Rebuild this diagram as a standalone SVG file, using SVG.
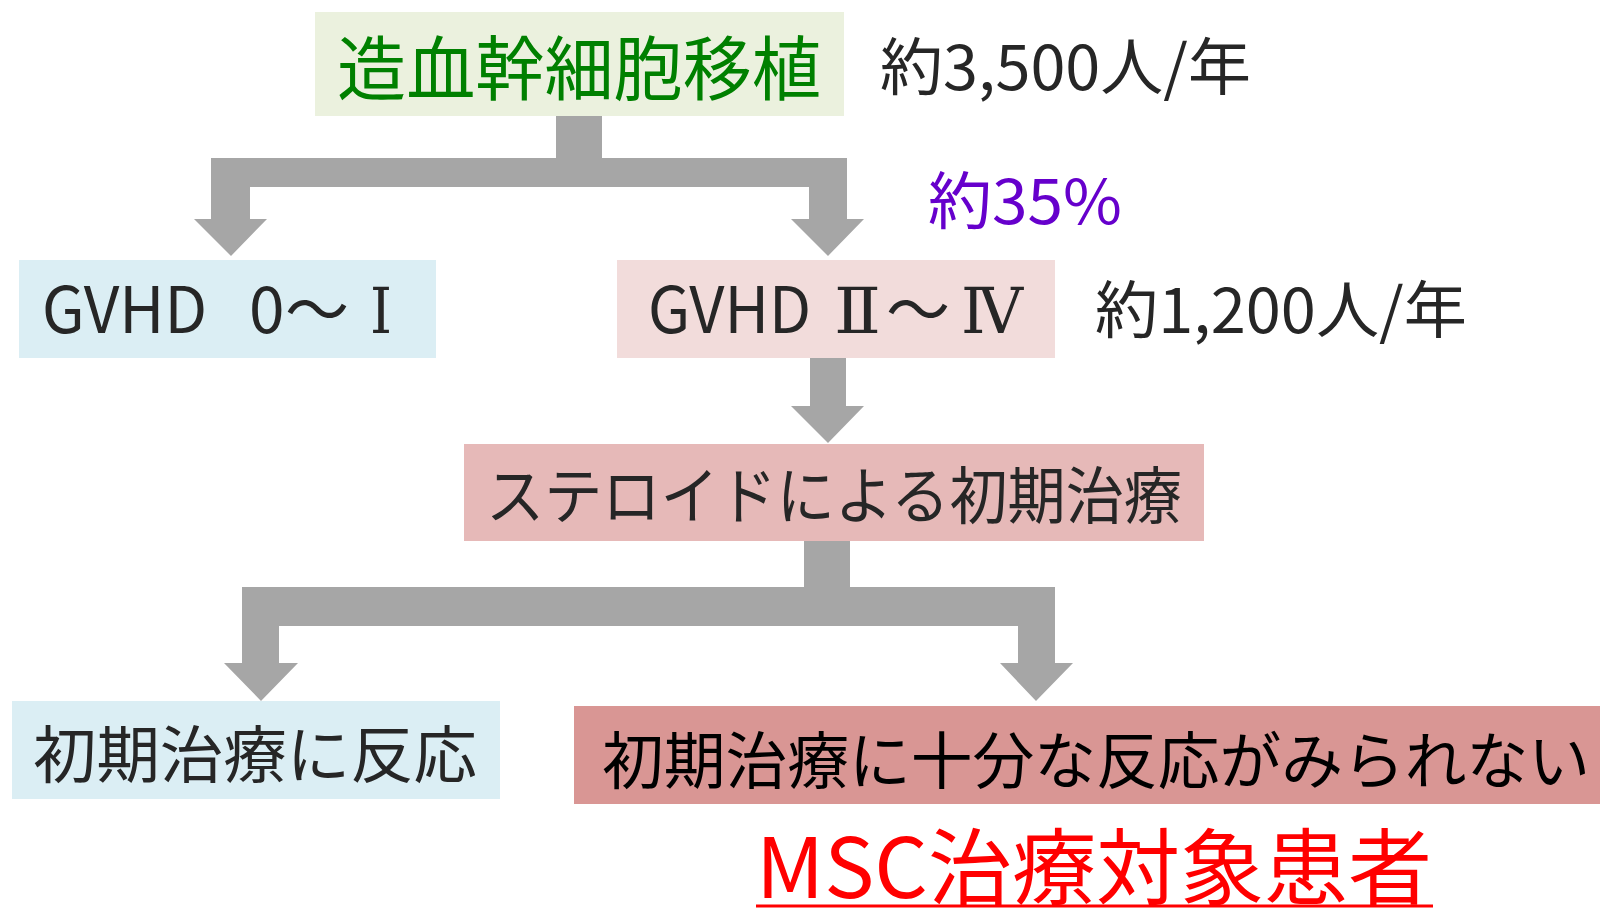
<svg xmlns="http://www.w3.org/2000/svg" width="1600" height="909" viewBox="0 0 1600 909">
<style>
text{font-family:"Noto Sans CJK JP","Noto Sans",sans-serif;}
.t{fill:#262626;font-size:62px;}
.g{font-size:64px;fill:#262626;}
.r{font-family:"DejaVu Serif","Liberation Serif","Noto Sans CJK JP",serif;font-size:64px;fill:#262626;}
.arr{fill:#A6A6A6;}
</style>
<rect width="1600" height="909" fill="#FFFFFF"/>
<g id="connectors">
<path class="arr" d="M556,116 H602 V158 H847 V219 H864 L828,256 L791,219 H809 V187 H250 V219 H267 L231,256 L194,219 H211 V158 H556 Z"/>
<path class="arr" d="M810,357 H846 V406 H864 L828,443 L791,406 H810 Z"/>
<path class="arr" d="M804,541 H850 V587 H1055 V663 H1073 L1036,701 L1000,663 H1018 V626 H279 V663 H298 L261,701 L224,663 H242 V587 H804 Z"/>
</g>
<g id="node-transplant">
<rect x="315" y="12" width="529" height="104" fill="#EBF1DE"/>
<text x="337" y="95" font-size="70" fill="#008000" textLength="484" lengthAdjust="spacingAndGlyphs">造血幹細胞移植</text>
</g>
<g id="label-3500">
<text class="t" x="880" y="90" textLength="371" lengthAdjust="spacingAndGlyphs">約3,500人/年</text>
</g>
<g id="label-35">
<text x="928" y="224" font-size="62" fill="#6600CC" textLength="194" lengthAdjust="spacingAndGlyphs">約35%</text>
</g>
<g id="node-gvhd-low">
<rect x="19" y="260" width="417" height="98" fill="#DBEEF4"/>
<text class="g" x="42" y="333" textLength="165" lengthAdjust="spacingAndGlyphs">GVHD</text>
<text class="g" x="249" y="333">0</text>
<text class="g" x="317" y="333" text-anchor="middle">～</text>
<text class="r" x="370" y="333" textLength="22" lengthAdjust="spacingAndGlyphs">Ⅰ</text>
</g>
<g id="node-gvhd-high">
<rect x="617" y="260" width="438" height="98" fill="#F2DCDB"/>
<text class="g" x="648" y="333" textLength="163" lengthAdjust="spacingAndGlyphs">GVHD</text>
<text class="r" x="834" y="333" textLength="47" lengthAdjust="spacingAndGlyphs">Ⅱ</text>
<text class="g" x="918" y="333" text-anchor="middle">～</text>
<text class="r" x="961" y="333" textLength="62" lengthAdjust="spacingAndGlyphs">Ⅳ</text>
</g>
<g id="label-1200">
<text class="t" x="1095" y="333" textLength="372" lengthAdjust="spacingAndGlyphs">約1,200人/年</text>
</g>
<g id="node-steroid">
<rect x="464" y="444" width="740" height="97" fill="#E6B9B8"/>
<text class="t" x="486" y="519" textLength="696" lengthAdjust="spacingAndGlyphs">ステロイドによる初期治療</text>
</g>
<g id="node-response">
<rect x="12" y="701" width="488" height="98" fill="#DBEEF4"/>
<text class="t" x="33" y="778" textLength="444" lengthAdjust="spacingAndGlyphs">初期治療に反応</text>
</g>
<g id="node-noresponse">
<rect x="574" y="706" width="1026" height="98" fill="#D99694"/>
<text x="602" y="784" font-size="62" fill="#000000" textLength="988" lengthAdjust="spacingAndGlyphs">初期治療に十分な反応がみられない</text>
</g>
<g id="label-msc">
<text x="756" y="898" font-size="83" fill="#FF0000" textLength="676" lengthAdjust="spacingAndGlyphs">MSC治療対象患者</text>
<line x1="756" y1="906" x2="1433" y2="906" stroke="#FF0000" stroke-width="3"/>
</g>
</svg>
